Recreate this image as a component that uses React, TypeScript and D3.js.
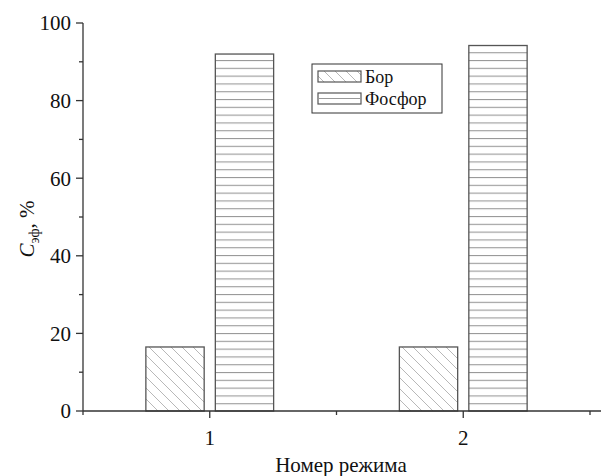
import React from 'react';
import * as d3 from 'd3';

// chart data
const modes = [1, 2];
const borValues = [16.5, 16.5];
const phosValues = [92.0, 94.2];
const seriesNames = ['Бор', 'Фосфор'];
const yTicks = [0, 20, 40, 60, 80, 100];
const yMinorTicks = [10, 30, 50, 70, 90];
const xMinorTicks = [0.5, 1.5, 2.5];

const W = 601;
const H = 476;
const FONT =
  "'Liberation Serif', 'Times New Roman', Times, 'Nimbus Roman', 'Noto Serif', 'DejaVu Serif', FreeSerif, serif";

const App = () => {
  // scales fitted to the reference pixel positions
  const x = d3.scaleLinear().domain([0.5, 2.5]).range([83, 590]);
  const y = d3.scaleLinear().domain([0, 100]).range([411, 23]);

  const barW = x(1.23) - x(1); // about 58px
  const offset = x(1.137) - x(1); // centre offset from tick

  const bars = modes.flatMap((m, i) => [
    { key: `b${i}`, cx: x(m) - offset, v: borValues[i], fill: 'url(#diag)' },
    { key: `p${i}`, cx: x(m) + offset, v: phosValues[i], fill: 'url(#horiz)' },
  ]);

  const txt = { fontFamily: FONT, fill: '#111' };

  return (
    <svg
      width={W}
      height={H}
      style={{ position: 'absolute', left: 0, top: 0, background: '#fff', fontFamily: FONT }}
    >
      <defs>
        <pattern id="diag" patternUnits="userSpaceOnUse" width={11} height={11}>
          <path d="M0,0 L11,11 M-2,9 L2,13 M9,-2 L13,2" stroke="#b0b0b0" strokeWidth={0.9} />
        </pattern>
        <pattern id="horiz" patternUnits="userSpaceOnUse" width={10} height={7.8} y={411}>
          <line x1={0} x2={10} y1={0.5} y2={0.5} stroke="#999" strokeWidth={1.2} />
        </pattern>
      </defs>

      {/* bars */}
      {bars.map((b) => (
        <rect
          key={b.key}
          x={b.cx - barW / 2}
          y={y(b.v)}
          width={barW}
          height={y(0) - y(b.v)}
          fill={b.fill}
          stroke="#555"
          strokeWidth={1.3}
        />
      ))}

      {/* y axis */}
      <line x1={x(0.5)} x2={x(0.5)} y1={y(0)} y2={y(100)} stroke="#333" strokeWidth={1.3} />
      {yTicks.map((t) => (
        <g key={t}>
          <line x1={x(0.5) - 7} x2={x(0.5)} y1={y(t)} y2={y(t)} stroke="#333" strokeWidth={1.3} />
          <text x={x(0.5) - 12} y={y(t)} dy="0.35em" textAnchor="end" fontSize={21} style={txt}>
            {t}
          </text>
        </g>
      ))}
      {yMinorTicks.map((t) => (
        <line key={t} x1={x(0.5) - 4} x2={x(0.5)} y1={y(t)} y2={y(t)} stroke="#333" strokeWidth={1.3} />
      ))}

      {/* x axis */}
      <line x1={x(0.5)} x2={W} y1={y(0)} y2={y(0)} stroke="#333" strokeWidth={1.3} />
      {modes.map((m) => (
        <g key={m}>
          <line x1={x(m)} x2={x(m)} y1={y(0)} y2={y(0) + 7} stroke="#333" strokeWidth={1.3} />
          <text x={x(m)} y={445} textAnchor="middle" fontSize={21} style={txt}>
            {m}
          </text>
        </g>
      ))}
      {xMinorTicks.map((t) => (
        <line key={t} x1={x(t)} x2={x(t)} y1={y(0)} y2={y(0) + 4} stroke="#333" strokeWidth={1.3} />
      ))}

      {/* axis titles */}
      <text x={341} y={472} textAnchor="middle" fontSize={21} style={txt}>
        Номер режима
      </text>
      <text transform="translate(34,229) rotate(-90)" textAnchor="middle" fontSize={21} style={txt}>
        <tspan fontStyle="italic">C</tspan>
        <tspan fontSize={14} dy={5}>эф</tspan>
        <tspan dy={-5}>, %</tspan>
      </text>

      {/* legend */}
      <rect x={312} y={64} width={130} height={49} fill="#fff" stroke="#333" strokeWidth={1} />
      <rect x={318} y={71} width={43} height={11} fill="url(#diag)" stroke="#555" strokeWidth={1.2} />
      <rect x={318} y={93} width={43} height={11} fill="#fff" stroke="#555" strokeWidth={1.2} />
      <line x1={318} x2={361} y1={98.5} y2={98.5} stroke="#999" strokeWidth={1.2} />
      <text x={365} y={83} fontSize={18} style={txt}>{seriesNames[0]}</text>
      <text x={365} y={105} fontSize={18} style={txt}>{seriesNames[1]}</text>
    </svg>
  );
};

export default App;
